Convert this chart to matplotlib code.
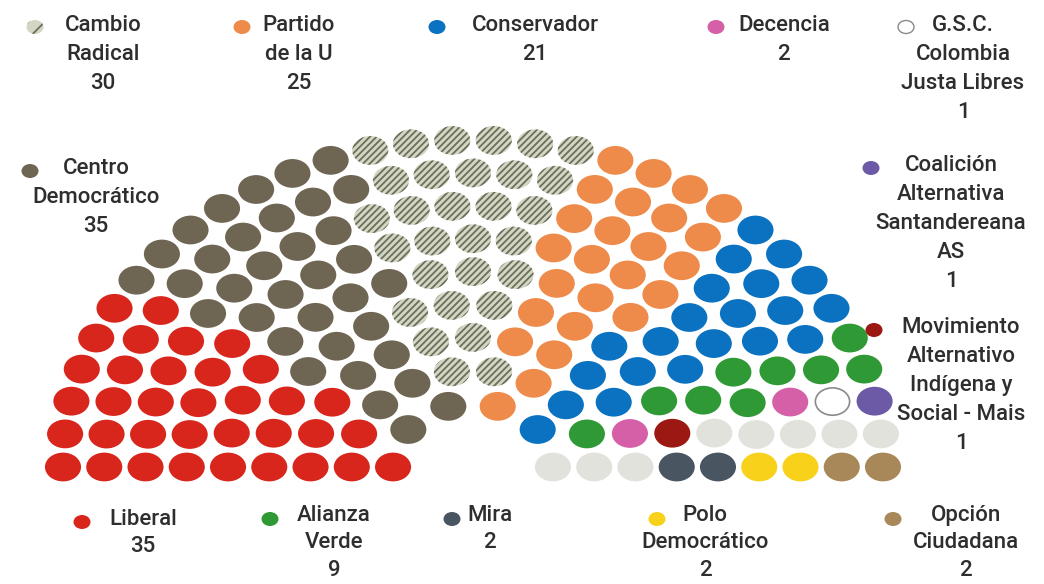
import matplotlib
matplotlib.use("Agg")
import matplotlib.pyplot as plt
from matplotlib.patches import Circle, Ellipse
import numpy as np

# seat counts, in the order they are laid out from left to right
parties = ["Liberal", "Centro Democrático", "Cambio Radical", "Partido de la U",
           "Conservador", "Alianza Verde", "Decencia", "G.S.C. Colombia Justa Libres",
           "MAIS", "Coalición AS", "Sin asignar", "Mira", "Polo Democrático",
           "Opción Ciudadana"]
seats = [35, 35, 30, 25, 21, 9, 2, 1, 1, 1, 8, 2, 2, 2]
colors = ["#d8261c", "#6f6553", "#d3d6c3", "#ee8a4a", "#0a72c0", "#2f9935",
          "#d660a8", "#ffffff", "#9c1812", "#6c5aa6", "#e2e2dc", "#4a5562",
          "#f8d21a", "#a88758"]

# legend labels (name lines + seat count)
legend_labels = ["Cambio\nRadical\n30", "Partido\nde la U\n25", "Conservador\n21",
                 "Decencia\n2", "G.S.C.\nColombia\nJusta Libres\n1",
                 "Centro\nDemocrático\n35",
                 "Coalición\nAlternativa\nSantandereana\nAS\n1",
                 "Movimiento\nAlternativo\nIndígena y\nSocial - Mais\n1",
                 "Liberal\n35", "Alianza\nVerde\n9", "Mira\n2",
                 "Polo\nDemocrático\n2", "Opción\nCiudadana\n2"]
legend_party = ["Cambio Radical", "Partido de la U", "Conservador", "Decencia",
                "G.S.C. Colombia Justa Libres", "Centro Democrático", "Coalición AS",
                "MAIS", "Liberal", "Alianza Verde", "Mira", "Polo Democrático",
                "Opción Ciudadana"]

# layout (pixels): marker position, text centre x, text top y
legend_pos = [((35, 27), 103, 15), ((242, 27), 299, 15), ((437, 27), 535, 15),
              ((716, 27), 784, 15), ((906, 27), 963, 15),
              ((30, 171), 96, 158), ((871, 168), 951, 155), ((874, 330), 961, 317),
              ((82, 522), 143, 509), ((270, 519), 334, 505), ((452, 519), 490, 505),
              ((657, 519), 705, 505), ((893, 519), 966, 505)]

##################################################################
# seat layout: 9 rings, seats per ring proportional to radius
##################################################################
total = sum(seats)
rows = 9
radii = np.linspace(0.195, 1.0, rows)
share = total * radii / radii.sum()
per_ring = np.floor(share).astype(int)
rest = total - per_ring.sum()
per_ring[np.argsort(-(share - per_ring))[:rest]] += 1

xs, ys, ang, ring = [], [], [], []
for i, (r, n) in enumerate(zip(radii, per_ring)):
    a = np.linspace(np.pi, 0, n)
    xs += list(r * np.cos(a))
    ys += list(r * np.sin(a))
    ang += list(np.round(a, 9))
    ring += [i] * n
xs, ys, ang, ring = map(np.array, (xs, ys, ang, ring))
order = np.lexsort((ring, -ang))

seat_party = np.repeat(np.arange(len(parties)), seats)

plt.rcParams['hatch.linewidth'] = 1.3
plt.rcParams['font.family'] = ['Roboto', 'DejaVu Sans']

W, H = 1044, 584
fig = plt.figure(figsize=(W / 100, H / 100), dpi=100)
fig.patch.set_facecolor('white')

# hemicycle axes: centre at (473, 467) px, x unit 410 px, y unit 327 px
cx, cy, ux, uy = 473, 467, 410, 327
ax = fig.add_axes([0, 0, 1, 1])
ax.set_xlim(-cx / ux, (W - cx) / ux)
ax.set_ylim((cy - H) / uy, cy / uy)
ax.axis('off')

dot_r = 0.044
for s, p in zip(order, seat_party):
    name = parties[p]
    if name == "Cambio Radical":
        ax.add_patch(Circle((xs[s], ys[s]), dot_r, facecolor=colors[p],
                            edgecolor="#6a6f5c", hatch="/" * 5, linewidth=0))
    elif name.startswith("G.S.C."):
        ax.add_patch(Circle((xs[s], ys[s]), dot_r * 0.95, facecolor="white",
                            edgecolor="#8a8a8a", linewidth=1.2))
    else:
        ax.add_patch(Circle((xs[s], ys[s]), dot_r, facecolor=colors[p],
                            edgecolor='none'))

# legend overlay in pixel coordinates
lg = fig.add_axes([0, 0, 1, 1])
lg.set_xlim(0, W)
lg.set_ylim(H, 0)
lg.axis('off')
lg.patch.set_alpha(0)

for label, party, ((mx, my), tx, ty) in zip(legend_labels, legend_party, legend_pos):
    p = parties.index(party)
    if party == "Cambio Radical":
        lg.add_patch(Ellipse((mx, my), 17, 14, facecolor=colors[p],
                             edgecolor="#6a6f5c", hatch="//", linewidth=0))
    elif party.startswith("G.S.C."):
        lg.add_patch(Ellipse((mx, my), 16, 13, facecolor="white",
                             edgecolor="#8a8a8a", linewidth=1))
    else:
        lg.add_patch(Ellipse((mx, my), 17, 14, facecolor=colors[p], edgecolor='none'))
    bottom_row = ty > 500
    lg.text(tx, ty, label, ha='center', va='top', multialignment='center',
            fontsize=16, fontweight='medium', color='#2e2e2e',
            linespacing=1.4 if bottom_row else 1.5)

fig.savefig('out.png', dpi=100)
